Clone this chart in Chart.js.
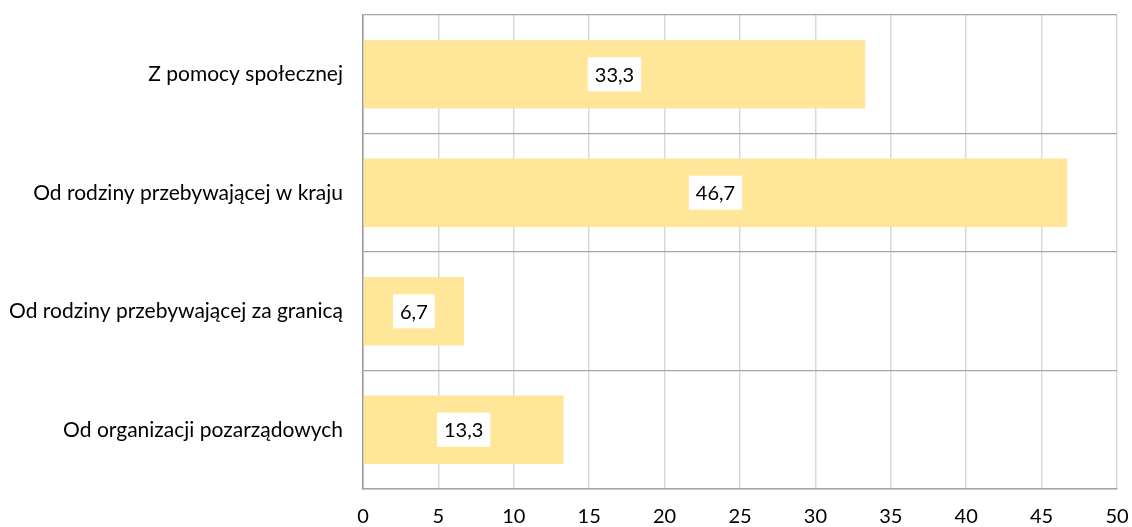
<!DOCTYPE html>
<html>
<head>
<meta charset="utf-8">
<script src="https://cdn.jsdelivr.net/npm/chart.js@4.4.0/dist/chart.umd.min.js"></script>
<style>
  html, body { margin: 0; padding: 0; background: #fff; }
  #wrap { width: 1132px; height: 527px; }
</style>
</head>
<body>
<div id="wrap"><canvas id="myChart" width="1132" height="527"></canvas></div>
<script>
const categories = [
    'Z pomocy społecznej',
    'Od rodziny przebywającej w kraju',
    'Od rodziny przebywającej za granicą',
    'Od organizacji pozarządowych'
];
const values = [33.3, 46.7, 6.7, 13.3];
const xTicks = [0, 5, 10, 15, 20, 25, 30, 35, 40, 45, 50];

const FONT = 'Lato, "Open Sans", sans-serif';

// white boxes with the value, centred on each bar
const valueBoxes = {
    id: 'valueBoxes',
    afterDatasetsDraw(chart) {
        const ctx = chart.ctx;
        const meta = chart.getDatasetMeta(0);
        ctx.save();
        ctx.font = '20px ' + FONT;
        ctx.textAlign = 'center';
        ctx.textBaseline = 'middle';
        meta.data.forEach((bar, i) => {
            const txt = values[i].toFixed(1).replace('.', ',');
            const cx = (bar.x + bar.base) / 2;
            const cy = bar.y;
            const w = ctx.measureText(txt).width + 14;
            const h = 34;
            ctx.fillStyle = '#ffffff';
            ctx.fillRect(cx - w / 2, cy - h / 2, w, h);
            ctx.fillStyle = '#000000';
            ctx.fillText(txt, cx, cy + 1);
        });
        ctx.restore();
    }
};

new Chart(document.getElementById('myChart').getContext('2d'), {
    type: 'bar',
    data: {
        labels: categories,
        datasets: [{
            data: values,
            backgroundColor: '#ffe699',
            borderWidth: 0,
            categoryPercentage: 0.58,
            barPercentage: 1
        }]
    },
    options: {
        indexAxis: 'y',
        responsive: false,
        animation: false,
        layout: { padding: { top: 15, right: 15, left: 0, bottom: 0 } },
        plugins: {
            legend: { display: false },
            tooltip: { enabled: false }
        },
        scales: {
            x: {
                min: 0,
                max: 50,
                afterBuildTicks: axis => { axis.ticks = xTicks.map(v => ({value: v})); },
                afterFit: axis => {
                    axis.height = 38;
                    axis.paddingLeft = 0;
                    axis.paddingRight = 0;
                },
                grid: { color: '#d9d9d9', lineWidth: 1.5, drawTicks: false },
                border: { display: true, color: '#a6a6a6', width: 1.5 },
                ticks: { color: '#000', padding: 16, maxRotation: 0, font: { family: FONT, size: 20 } }
            },
            y: {
                afterFit: axis => {
                    axis.width = 363;
                    axis.paddingTop = 0;
                    axis.paddingBottom = 0;
                },
                grid: { color: '#a6a6a6', lineWidth: 1.2, offset: true, drawTicks: false },
                border: { display: true, color: '#999999', width: 1.5 },
                ticks: { color: '#000', padding: 20, font: { family: FONT, size: 21 } }
            }
        }
    },
    plugins: [valueBoxes]
});
</script>
</body>
</html>
